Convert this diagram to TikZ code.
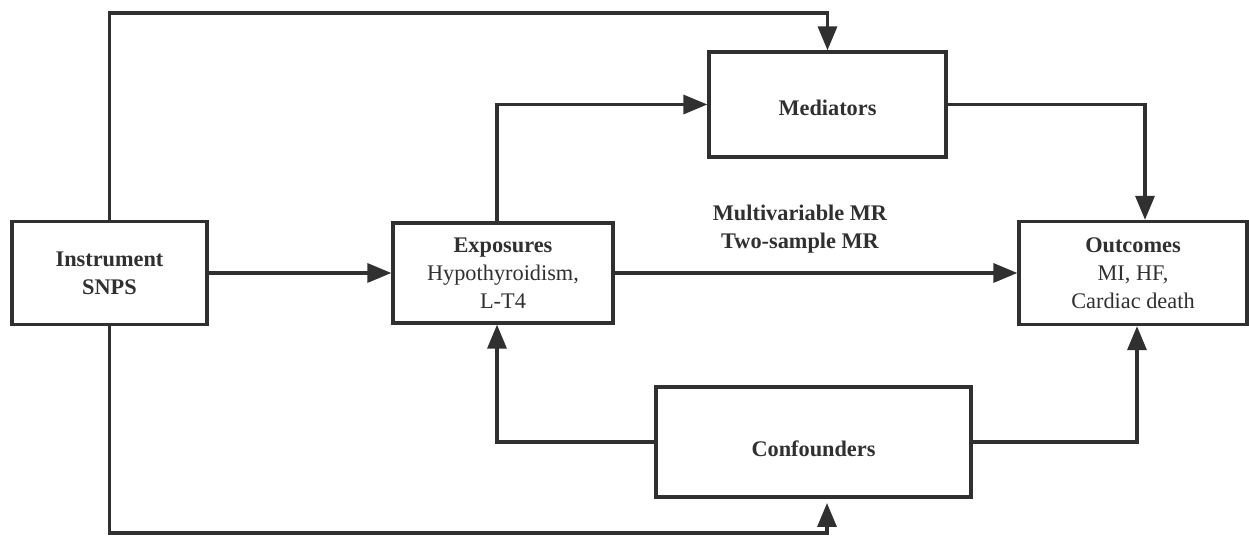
\documentclass[tikz,border=0pt]{standalone}
\usepackage{fontspec}
\setmainfont{Liberation Serif}
\usetikzlibrary{positioning,arrows.meta}
\definecolor{boxline}{HTML}{303030}

\begin{document}
\begin{tikzpicture}[x=0.02cm,y=-0.02cm,
 box/.style={draw=boxline,line width=1.9pt,fill=white,align=center,inner sep=0pt,text=boxline,font=\fontsize{12.7}{16}\selectfont},
 link/.style={draw=boxline,line width=1.9pt,-{Triangle[length=0.48cm,width=0.38cm]}},
 mrtext/.style={align=center,text=boxline,font=\fontsize{12.7}{16}\selectfont\bfseries}]
 \useasboundingbox (0,0) rectangle (1249,536);

 \node[box,minimum width=3.9cm,minimum height=2.06cm] (instr) at (109.5,273) {\textbf{Instrument}\\\textbf{SNPS}};
 \node[box,minimum width=4.4cm,minimum height=2.0cm] (expo) at (503,273) {\textbf{Exposures}\\Hypothyroidism,\\L-T4};
 \node[box,minimum width=4.74cm,minimum height=2.1cm,text height=0.44cm,text depth=0cm] (med) at (827.5,104.5) {\textbf{Mediators}};
 \node[box,minimum width=6.3cm,minimum height=2.2cm,text height=0.58cm,text depth=0cm] (conf) at (813.5,442) {\textbf{Confounders}};
 \node[box,minimum width=4.56cm,minimum height=2.06cm] (outc) at (1133,273) {\textbf{Outcomes}\\MI, HF,\\Cardiac death};

 \node[mrtext] (mrlabel) at (800,229) {Multivariable MR\\Two-sample MR};

 \coordinate (topbend) at (827,13);
 \coordinate (botbend) at (827,533);
 \coordinate (confin) at (827,503);

 \draw[link] (instr.north) |- (topbend) -| (med.north);
 \draw[link] (instr.south) |- (botbend) -- (confin);
 \draw[link] (instr) -- (expo);
 \draw[link] ([xshift=-0.12cm]expo.north) |- (med.west);
 \draw[link] (med.east) -| ([xshift=0.24cm]outc.north);
 \draw[link] (expo) -- (outc);
 \draw[link] (conf.west) -| ([xshift=-0.12cm]expo.south);
 \draw[link] (conf.east) -| ([xshift=0.08cm]outc.south);
\end{tikzpicture}
\end{document}
